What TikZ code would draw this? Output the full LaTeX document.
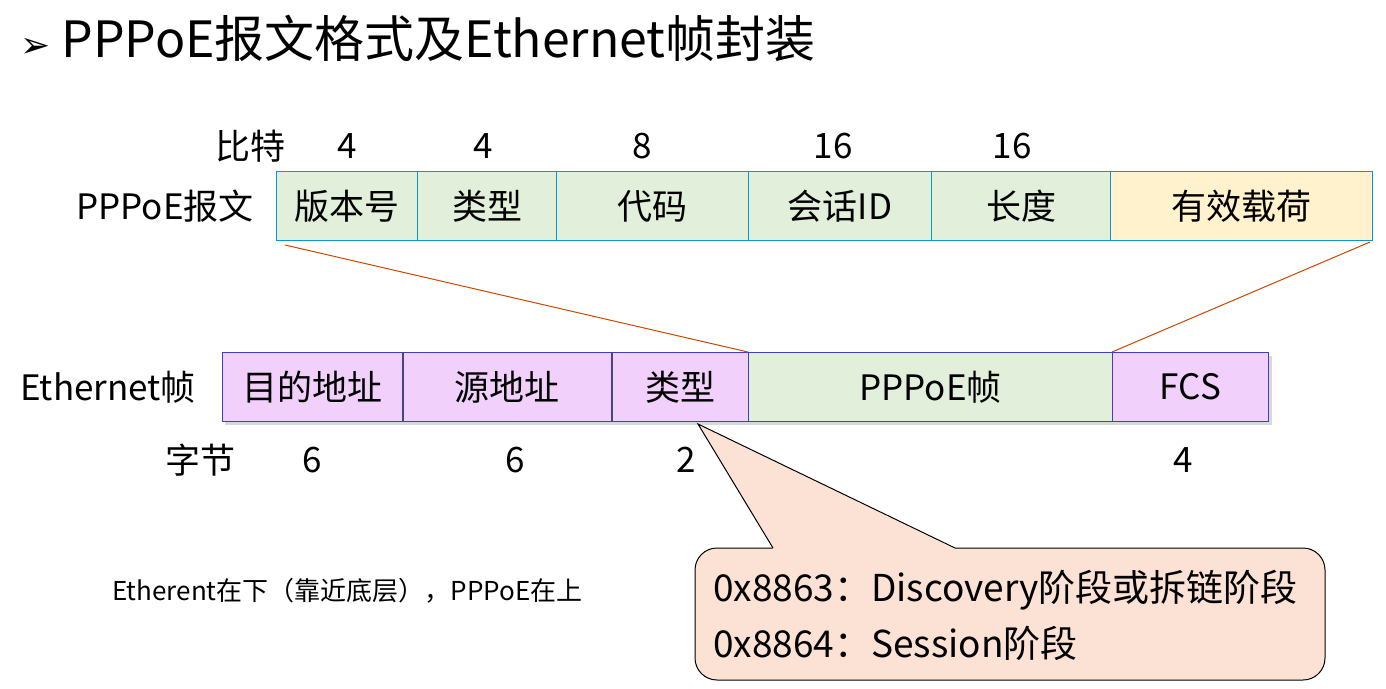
\documentclass[tikz,border=0pt]{standalone}
\usepackage{fontspec}
\setmainfont{Noto Sans CJK SC}
\newfontfamily\symf{DejaVu Sans}
\begin{document}
\begin{tikzpicture}[x=1pt,y=-1pt,
  lbl/.style={font=\fontsize{35}{37}\selectfont,inner sep=0pt},
  topbox/.style={draw=cyan!80!blue,line width=1pt,minimum height=69pt,inner sep=0pt,anchor=north west,font=\fontsize{35}{37}\selectfont},
  ethbox/.style={draw=blue!50!gray,line width=1pt,minimum height=69pt,inner sep=0pt,anchor=north west,font=\fontsize{35}{37}\selectfont},
  link/.style={draw=orange!70!red!80!black,line width=1pt}]
\useasboundingbox (0,0) rectangle (1386,688);
\definecolor{tg}{HTML}{E2EFDA}\definecolor{ty}{HTML}{FFF2CC}\definecolor{ep}{HTML}{F2D0FC}\definecolor{cb}{HTML}{FBE2D5}
\node[anchor=west,inner sep=0pt,font=\fontsize{50}{52}\selectfont] (title) at (20,38) {{\symf\fontsize{36}{38}\selectfont ➢} PPPoE报文格式及Ethernet帧封装};
% top row
\node[lbl] (bit) at (250,146) {比特};
\node[lbl] (b1) at (347,146) {4};
\node[lbl] (b2) at (483,146) {4};
\node[lbl] (b3) at (642,146) {8};
\node[lbl] (b4) at (833,146) {16};
\node[lbl] (b5) at (1012,146) {16};
\node[lbl] (pl) at (165,206) {PPPoE报文};
\node[topbox,fill=tg,minimum width=141pt] (t1) at (276,171) {版本号};
\node[topbox,fill=tg,minimum width=139pt] (t2) at (417,171) {类型};
\node[topbox,fill=tg,minimum width=192pt] (t3) at (556,171) {代码};
\node[topbox,fill=tg,minimum width=183pt] (t4) at (748,171) {会话ID};
\node[topbox,fill=tg,minimum width=179pt] (t5) at (931,171) {长度};
\node[topbox,fill=ty,minimum width=262pt] (t6) at (1110,171) {有效载荷};
% bottom row
\fill[black!15] (225,356) rectangle (1272,425);
\node[lbl] (el) at (108,387) {Ethernet帧};
\node[ethbox,fill=ep,minimum width=180pt] (e1) at (222,352) {目的地址};
\node[ethbox,fill=ep,minimum width=209pt] (e2) at (402,352) {源地址};
\node[ethbox,fill=ep,minimum width=137pt] (e3) at (611,352) {类型};
\node[ethbox,fill=tg,minimum width=364pt] (e4) at (748,352) {PPPoE帧};
\node[ethbox,fill=ep,minimum width=156pt] (e5) at (1112,352) {FCS};
\draw[black!70,line width=1pt] (e1.north east) -- (e1.south east) (e2.north east) -- (e2.south east);
\node[lbl] (by) at (200,460) {字节};
\node[lbl] (y1) at (312,460) {6};
\node[lbl] (y2) at (515,460) {6};
\node[lbl] (y3) at (686,460) {2};
\node[lbl] (y4) at (1183,460) {4};
\coordinate (s1) at (285,245);
\coordinate (s2) at (1370,242);
\draw[link] (s1) -- (e4.north west);
\draw[link] (s2) -- (e5.north west);
% callout
\coordinate (tip) at (698,424);
\draw[fill=cb,line width=1pt,rounded corners=22pt] (773,548) -- (695,548) -- (695,680) -- (1325,680) -- (1325,548) -- (955,548);
\fill[cb] (tip) -- (773,549) -- (955,549) -- cycle;
\draw[line width=1pt] (773,548) -- (tip) -- (955,548);
\node[anchor=west,inner sep=0pt,font=\fontsize{37}{39}\selectfont] (c1) at (713,590) {0x8863：Discovery阶段或拆链阶段};
\node[anchor=west,inner sep=0pt,font=\fontsize{37}{39}\selectfont] (c2) at (713,643) {0x8864：Session阶段};
\node[anchor=west,inner sep=0pt,font=\fontsize{26}{28}\selectfont] (note) at (112,591) {Etherent在下（靠近底层），PPPoE在上};
\end{tikzpicture}
\end{document}
